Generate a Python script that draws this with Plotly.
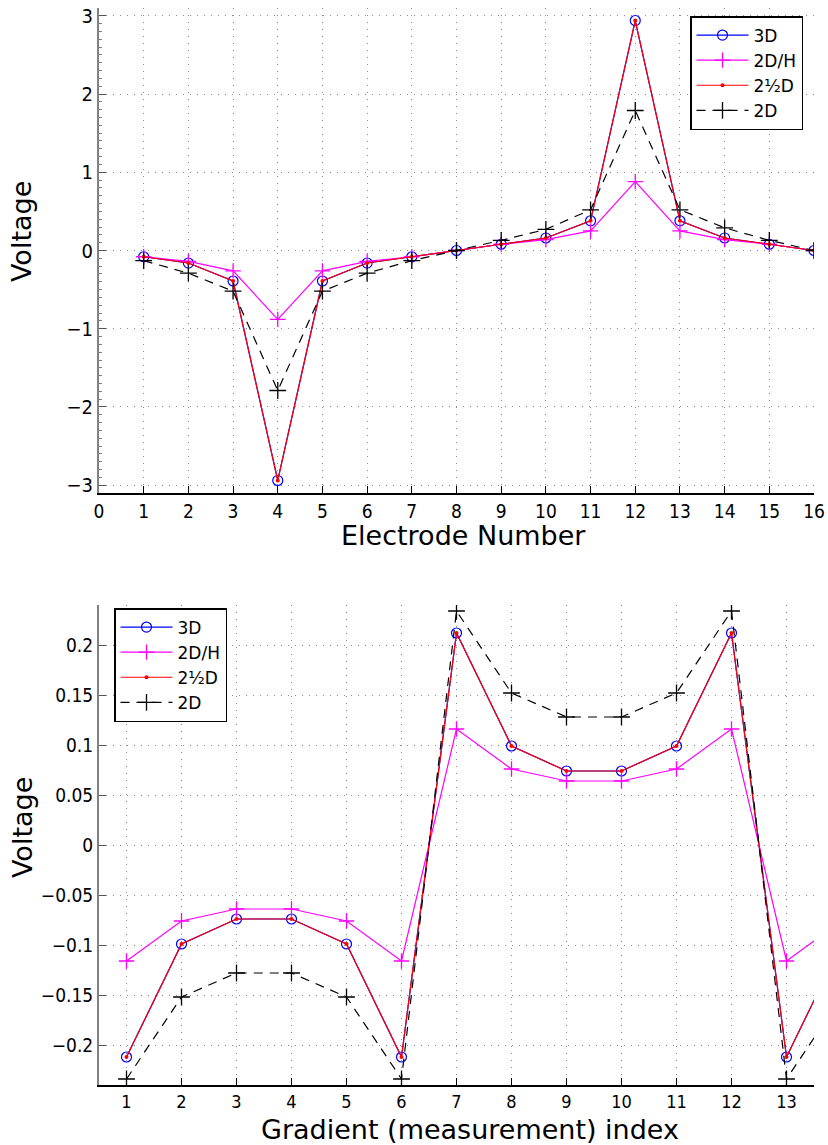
import plotly.graph_objects as go

# ---------- data ----------
electrodes = list(range(1, 17))
top_3d   = [-0.08, -0.16, -0.39, -2.94, -0.39, -0.16, -0.08, 0.0, 0.08, 0.16, 0.38, 2.94, 0.38, 0.16, 0.08, 0.0]
top_2dh  = [-0.08, -0.14, -0.26, -0.88, -0.26, -0.14, -0.08, 0.0, 0.08, 0.14, 0.25, 0.88, 0.25, 0.14, 0.08, 0.0]
top_25d  = [-0.08, -0.16, -0.39, -2.94, -0.39, -0.16, -0.08, 0.0, 0.08, 0.16, 0.38, 2.94, 0.38, 0.16, 0.08, 0.0]
top_2d   = [-0.13, -0.29, -0.52, -1.79, -0.52, -0.29, -0.13, 0.0, 0.13, 0.27, 0.52, 1.79, 0.52, 0.29, 0.13, 0.0]

gradients = list(range(1, 15))
bot_3d   = [-0.212, -0.099, -0.074, -0.074, -0.099, -0.212, 0.212, 0.099, 0.074, 0.074, 0.099, 0.212, -0.212, -0.099]
bot_2dh  = [-0.116, -0.076, -0.064, -0.064, -0.076, -0.116, 0.116, 0.076, 0.064, 0.064, 0.076, 0.116, -0.116, -0.076]
bot_25d  = [-0.212, -0.099, -0.074, -0.074, -0.099, -0.212, 0.212, 0.099, 0.074, 0.074, 0.099, 0.212, -0.212, -0.099]
bot_2d   = [-0.234, -0.152, -0.128, -0.128, -0.152, -0.234, 0.234, 0.152, 0.128, 0.128, 0.152, 0.234, -0.234, -0.152]

series_names = ["3D", "2D/H", "2½D", "2D"]

top_xticks = list(range(0, 17))
top_yticks = [-3, -2, -1, 0, 1, 2, 3]
top_yticktext = ["−3", "−2", "−1", "0", "1", "2", "3"]
bot_xticks = list(range(1, 14))
bot_yticks = [-0.2, -0.15, -0.1, -0.05, 0, 0.05, 0.1, 0.15, 0.2]
bot_yticktext = ["−0.2", "−0.15", "−0.1", "−0.05", "0", "0.05", "0.1", "0.15", "0.2"]

# ---------- styles ----------
styles = [
    dict(line=dict(color="#0000ff", width=1.2),
         marker=dict(symbol="circle-open", size=10, color="#0000ff", line=dict(width=1.2, color="#0000ff"))),
    dict(line=dict(color="#ff00ff", width=1.2),
         marker=dict(symbol="cross-thin-open", size=11, color="#ff00ff", line=dict(width=1.3, color="#ff00ff"))),
    dict(line=dict(color="#ff0000", width=1.2),
         marker=dict(symbol="circle", size=4, color="#ff0000", line=dict(width=0))),
    dict(line=dict(color="#000000", width=1.2, dash="9px,7px"),
         marker=dict(symbol="cross-thin-open", size=12, color="#000000", line=dict(width=1.3, color="#000000"))),
]

fig = go.Figure()
for name, ys, st in zip(series_names, [top_3d, top_2dh, top_25d, top_2d], styles):
    fig.add_trace(go.Scatter(x=electrodes, y=ys, name=name, mode="lines+markers",
                             xaxis="x", yaxis="y", legend="legend", **st))
for name, ys, st in zip(series_names, [bot_3d, bot_2dh, bot_25d, bot_2d], styles):
    fig.add_trace(go.Scatter(x=gradients, y=ys, name=name, mode="lines+markers",
                             xaxis="x2", yaxis="y2", legend="legend2", **st))

W, H = 828, 1145
xdom = [99 / W, 814 / W]
top_dom = [1 - 493 / H, 1 - 8 / H]
bot_dom = [1 - 1085 / H, 1 - 605 / H]

grid = dict(showgrid=True, gridcolor="#8c8c8c", gridwidth=1, griddash="1px,6px", zeroline=False,
            automargin=False)
tickfont_top = dict(family="DejaVu Sans Condensed, DejaVu Sans", size=19, color="black")
tickfont_bot = dict(family="DejaVu Sans Condensed, DejaVu Sans", size=18, color="black")
legfont = dict(family="DejaVu Sans", size=17, color="black")

fig.update_layout(
    width=W, height=H, autosize=False,
    margin=dict(l=0, r=0, t=0, b=0, pad=0, autoexpand=False),
    paper_bgcolor="white", plot_bgcolor="white",
    font=dict(family="DejaVu Sans", color="black"),
    xaxis=dict(domain=xdom, anchor="y", range=[0, 16], tickvals=top_xticks,
               ticks="inside", ticklen=7, tickcolor="black", tickwidth=1,
               showline=True, linecolor="black", linewidth=1.5,
               tickfont=tickfont_top, ticklabelstandoff=0, **grid),
    yaxis=dict(domain=top_dom, anchor="x", range=[-3.1, 3.1], tickvals=top_yticks, ticktext=top_yticktext,
               ticks="inside", ticklen=7, tickcolor="#555", tickwidth=1,
               showline=True, linecolor="#808080", linewidth=2,
               minor=dict(ticks="inside", ticklen=3, tickcolor="#808080", dtick=0.1, showgrid=False),
               tickfont=dict(family="DejaVu Sans Condensed, DejaVu Sans", size=20, color="black"),
               ticklabelstandoff=0, **grid),
    xaxis2=dict(domain=xdom, anchor="y2", range=[0.5, 13.5], tickvals=bot_xticks,
                ticks="inside", ticklen=7, tickcolor="black", tickwidth=1,
                showline=True, linecolor="black", linewidth=1.5,
                tickfont=tickfont_bot, ticklabelstandoff=0, **grid),
    yaxis2=dict(domain=bot_dom, anchor="x2", range=[-0.24, 0.24], tickvals=bot_yticks, ticktext=bot_yticktext,
                ticks="inside", ticklen=7, tickcolor="#555", tickwidth=1,
                showline=True, linecolor="#808080", linewidth=2,
                tickfont=dict(family="DejaVu Sans Condensed, DejaVu Sans", size=19, color="black"),
                ticklabelstandoff=0, **grid),
    legend=dict(x=690 / W, y=1 - 16 / H, xanchor="left", yanchor="top",
                bgcolor="white", bordercolor="black", borderwidth=1.5,
                font=legfont, tracegroupgap=0, itemwidth=52),
    legend2=dict(x=114 / W, y=1 - 608 / H, xanchor="left", yanchor="top",
                 bgcolor="white", bordercolor="black", borderwidth=1.5,
                 font=legfont, tracegroupgap=0, itemwidth=52),
    showlegend=True,
)

title_font = dict(family="DejaVu Sans", size=27, color="black")
fig.add_annotation(text="Electrode Number", x=463 / W, y=1 - 536 / H, xref="paper", yref="paper",
                   showarrow=False, font=title_font, xanchor="center", yanchor="middle")
fig.add_annotation(text="Voltage", x=22 / W, y=1 - 232 / H, xref="paper", yref="paper",
                   showarrow=False, font=title_font, textangle=-90, xanchor="center", yanchor="middle")
fig.add_annotation(text="Gradient (measurement) index", x=470 / W, y=1 - 1129 / H, xref="paper", yref="paper",
                   showarrow=False, font=title_font, xanchor="center", yanchor="middle")
fig.add_annotation(text="Voltage", x=22 / W, y=1 - 828 / H, xref="paper", yref="paper",
                   showarrow=False, font=title_font, textangle=-90, xanchor="center", yanchor="middle")

fig.write_html("out.html", config={"displayModeBar": False, "responsive": False},
               post_script="document.body.style.margin='0px';document.body.style.overflow='hidden';")
